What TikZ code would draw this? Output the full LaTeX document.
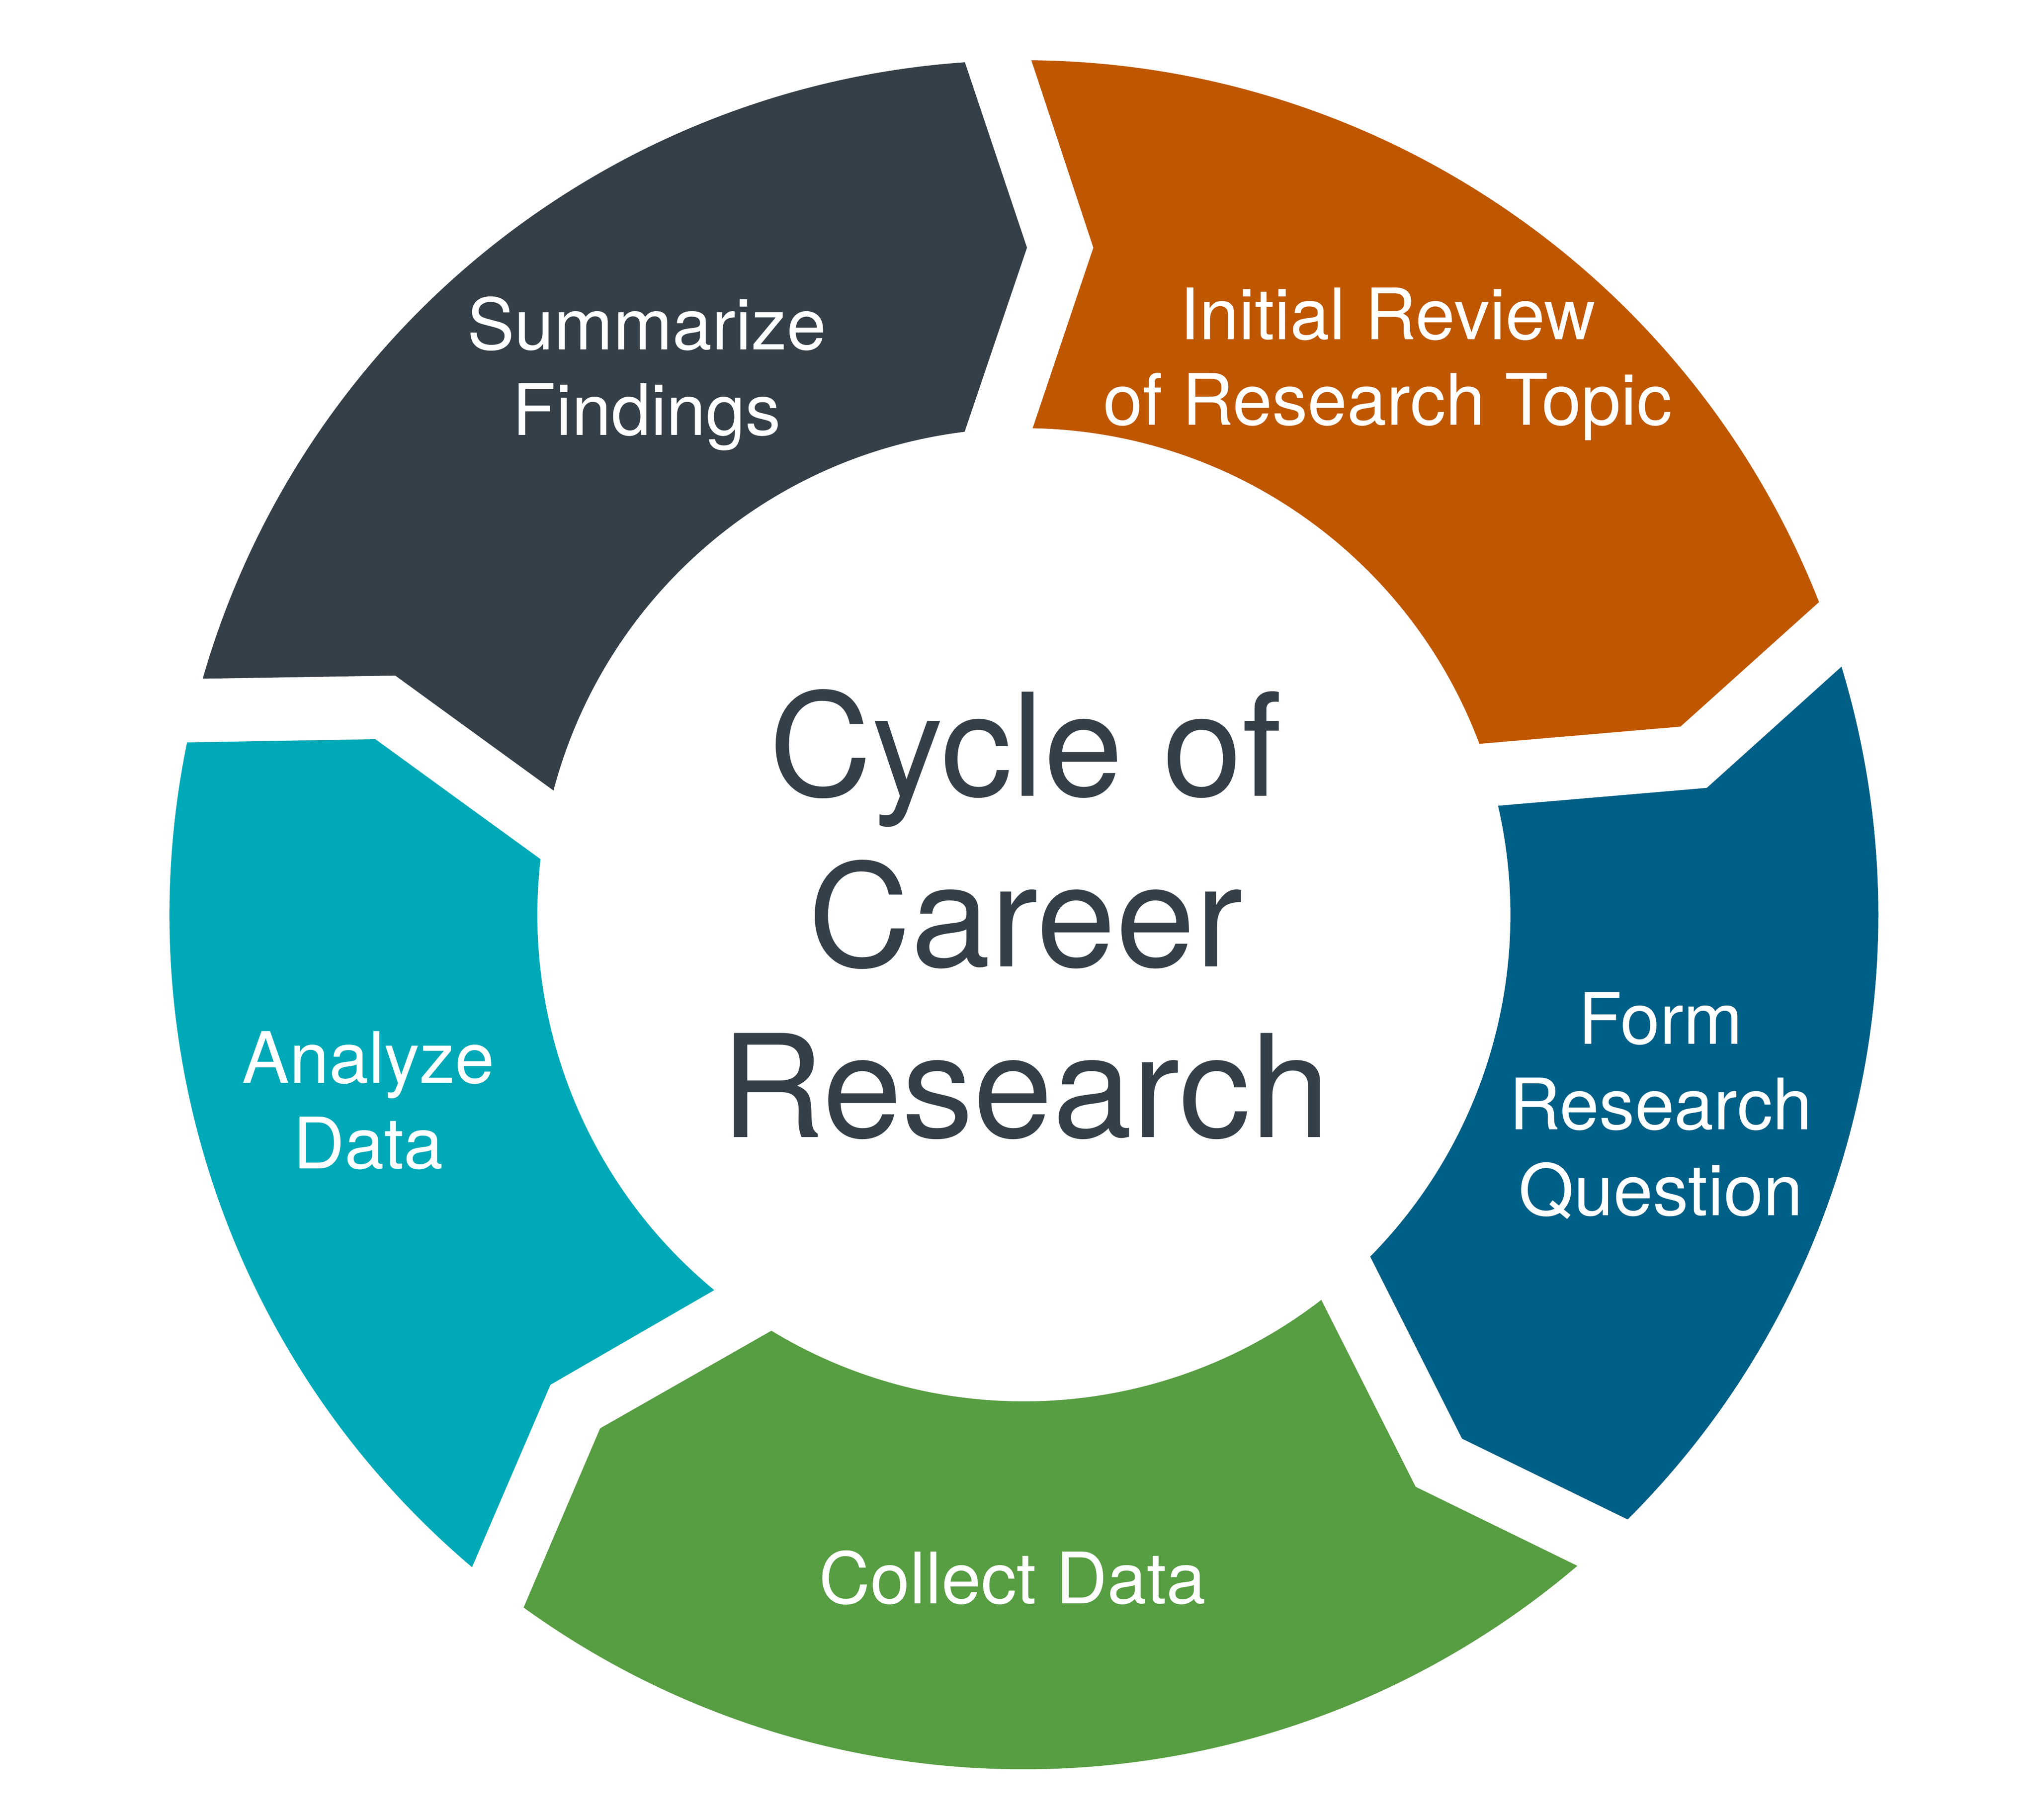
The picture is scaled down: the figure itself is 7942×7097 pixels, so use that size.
\documentclass[tikz,border=0pt]{standalone}
\usepackage{fontspec}
\setmainfont{TeX Gyre Heros}
\definecolor{ucharcoal}{HTML}{353F48}
\definecolor{uorange}{HTML}{BF5700}
\definecolor{ublue}{HTML}{005F86}
\definecolor{ugreen}{HTML}{579D42}
\definecolor{uteal}{HTML}{00A9B7}
\tikzset{
  seglabel/.style={text=white, align=center, inner sep=0pt, anchor=base,
    font=\fontsize{27.7}{33.4}\selectfont},
  titlelabel/.style={text=ucharcoal, align=center, inner sep=0pt, anchor=base,
    font=\fontsize{55.7}{66.6}\selectfont},
}
\begin{document}
\begin{tikzpicture}[x=0.1pt,y=0.1pt]
\useasboundingbox (-3994,-3529) rectangle (3948,3568);
\fill[white] (-3994,-3529) rectangle (3948,3568);
% Summarize Findings (charcoal)
\fill[ucharcoal] (163.96:3333) arc[start angle=163.96,end angle=93.96,radius=3333]
  -- (12,2602) -- (97.0:1898) arc[start angle=97.0,end angle=165.20,radius=1898]
  -- (-2452,933) -- cycle;
% Initial Review (orange)
\fill[uorange] (89.50:3333) arc[start angle=89.50,end angle=21.47,radius=3333]
  -- (2561,734) -- (20.57:1898) arc[start angle=20.57,end angle=88.97,radius=1898]
  -- (271,2602) -- cycle;
% Form Research Question (blue)
\fill[ublue] (16.88:3333) arc[start angle=16.88,end angle=-45.04,radius=3333]
  -- (1709,-2043) -- (-44.62:1898) arc[start angle=-44.62,end angle=12.95,radius=1898]
  -- (2664,495) -- cycle;
% Collect Data (green)
\fill[ugreen] (-49.63:3333) arc[start angle=-49.63,end angle=-125.84,radius=3333]
  -- (-1653,-2003) -- (-121.26:1898) arc[start angle=-121.26,end angle=-52.32,radius=1898]
  -- (1528,-2231) -- cycle;
% Analyze Data (teal)
\fill[uteal] (-130.23:3333) arc[start angle=-130.23,end angle=-191.64,radius=3333]
  -- (-2530,685) -- (-186.56:1898) arc[start angle=-186.56,end angle=-129.53,radius=1898]
  -- (-1847,-1833) -- cycle;
% labels (anchor=base sits on the last line's baseline)
\node[seglabel] (summ) at (-1471,1870) {Summarize\\Findings};
\node[seglabel] (init) at (1419,1910) {Initial Review\\of Research Topic};
\node[seglabel] (form) at (2484,-1172) {Form\\Research\\Question};
\node[seglabel] (coll) at (-44,-2686) {Collect Data};
\node[seglabel] (anal) at (-2557,-990) {Analyze\\Data};
\node[titlelabel] (title) at (6,-868) {Cycle of\\Career\\Research};
\end{tikzpicture}
\end{document}
